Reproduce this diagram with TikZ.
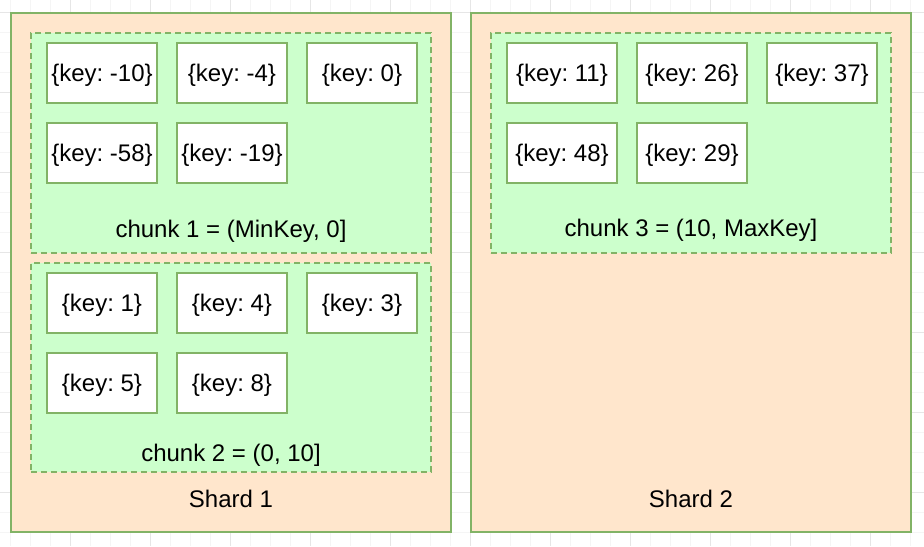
\documentclass[tikz,border=0pt]{standalone}
\usepackage{fontspec}
\setmainfont{Liberation Sans}
\usepackage{tikz}
\frenchspacing
\definecolor{shardFill}{RGB}{255, 230, 204}
\definecolor{chunkFill}{RGB}{204, 255, 204}
\definecolor{edgeGreen}{RGB}{130, 179, 102}
\definecolor{gridLight}{RGB}{245, 245, 245}
\definecolor{gridDark}{RGB}{230, 230, 230}

\begin{document}
\begin{tikzpicture}[x=0.5pt, y=-0.5pt,
    shard/.style={draw=edgeGreen, fill=shardFill, line width=1pt, minimum width=220pt, minimum height=259.5pt, inner sep=0pt},
    chunk/.style={draw=edgeGreen, fill=chunkFill, line width=1pt, dash pattern=on 3pt off 2pt, minimum width=200pt, inner sep=0pt},
    keybox/.style={draw=edgeGreen, fill=white, line width=1pt, minimum width=55pt, minimum height=30pt, inner sep=0pt, text height=9.5pt, text depth=1pt, font=\fontsize{12}{14}\selectfont},
    caption/.style={inner sep=0pt, font=\fontsize{12}{14}\selectfont}]
        \useasboundingbox (0,0) rectangle (924,546);
        % background grid
        \foreach \gx in {10,30,...,910} \draw[gridLight, line width=0.5pt] (\gx,0) -- (\gx,546);
        \foreach \gy in {12,32,...,532} \draw[gridLight, line width=0.5pt] (0,\gy) -- (924,\gy);
        \foreach \gx in {70,150,...,870} \draw[gridDark, line width=0.5pt] (\gx,0) -- (\gx,546);
        \foreach \gy in {12,92,...,492} \draw[gridDark, line width=0.5pt] (0,\gy) -- (924,\gy);

        % shards
        \node[shard] (shard1) at (231,272.5) {};
        \node[shard] (shard2) at (691,272.5) {};

        % chunks
        \node[chunk, minimum height=110pt] (chunk1) at (231,143) {};
        \node[chunk, minimum height=104.5pt] (chunk2) at (231,367.5) {};
        \node[chunk, minimum height=110pt] (chunk3) at (691,143) {};

        % documents of chunk 1
        \node[keybox] (k1a) at (102,73) {\{key: -10\}};
        \node[keybox] (k1b) at (232,73) {\{key: -4\}};
        \node[keybox] (k1c) at (362,73) {\{key: 0\}};
        \node[keybox] (k1d) at (102,153) {\{key: -58\}};
        \node[keybox] (k1e) at (232,153) {\{key: -19\}};

        % documents of chunk 2
        \node[keybox] (k2a) at (102,303) {\{key: 1\}};
        \node[keybox] (k2b) at (232,303) {\{key: 4\}};
        \node[keybox] (k2c) at (362,303) {\{key: 3\}};
        \node[keybox] (k2d) at (102,383) {\{key: 5\}};
        \node[keybox] (k2e) at (232,383) {\{key: 8\}};

        % documents of chunk 3
        \node[keybox] (k3a) at (562,73) {\{key: 11\}};
        \node[keybox] (k3b) at (692,73) {\{key: 26\}};
        \node[keybox] (k3c) at (822,73) {\{key: 37\}};
        \node[keybox] (k3d) at (562,153) {\{key: 48\}};
        \node[keybox] (k3e) at (692,153) {\{key: 29\}};

        % labels
        \node[caption] (chunk1label) at (231,231) {chunk 1 = (MinKey, 0]};
        \node[caption] (chunk2label) at (231,455) {chunk 2 = (0, 10]};
        \node[caption] (chunk3label) at (691,230) {chunk 3 = (10, MaxKey]};
        \node[caption] (shard1label) at (231,499) {Shard 1};
        \node[caption] (shard2label) at (691,499) {Shard 2};
      \end{tikzpicture}
\end{document}
